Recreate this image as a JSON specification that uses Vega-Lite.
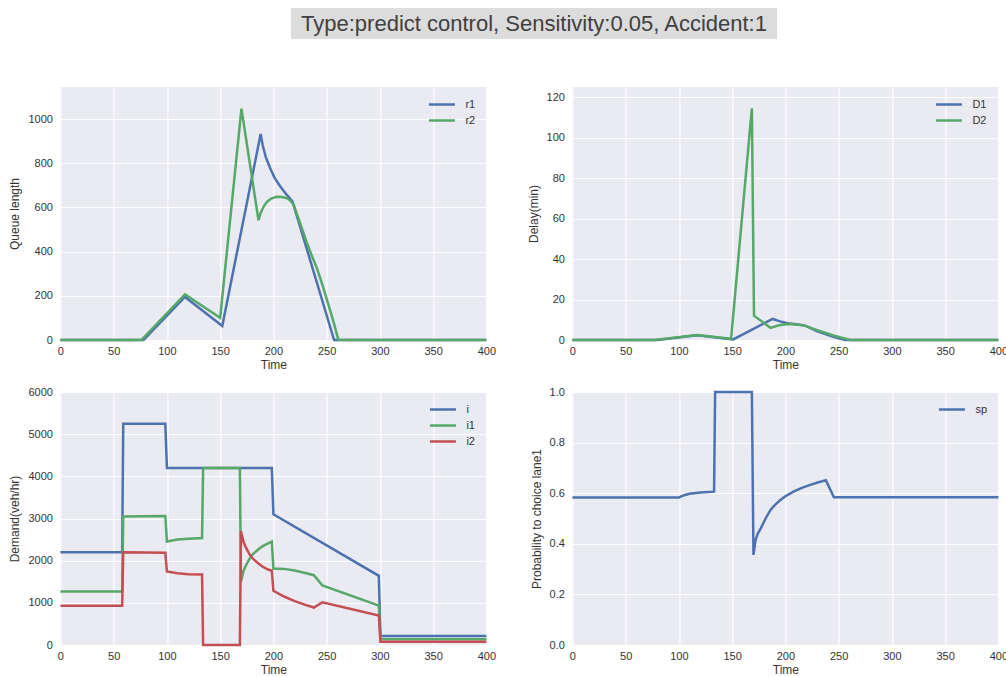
{
  "$schema": "https://vega.github.io/schema/vega-lite/v6.json",
  "padding": {"top": 8, "left": 8, "right": 0, "bottom": 0},
  "background": "white",
  "config": {
    "font": "Liberation Sans",
    "view": {"fill": "#EAEAF2", "stroke": null},
    "axis": {
      "domain": false, "ticks": false, "gridColor": "#FFFFFF", "gridWidth": 1.2,
      "labelFontSize": 11, "titleFontSize": 12, "labelColor": "#333333", "titleColor": "#333333",
      "titleFontWeight": "normal", "labelFont": "Liberation Sans", "titleFont": "Liberation Sans"
    },
    "axisX": {"labelPadding": 5, "titlePadding": 3, "labelFlush": false},
    "axisY": {"labelPadding": 8, "titlePadding": 6},
    "legend": {
      "orient": "top-right", "offset": 11, "padding": 0, "title": null,
      "symbolType": "M-2.6,0H2.6", "symbolSize": 100, "symbolStrokeWidth": 3,
      "labelFontSize": 11, "labelColor": "#333333", "labelOffset": 17, "rowPadding": 4,
      "labelFont": "Liberation Sans"
    },
    "line": {"strokeWidth": 2.5}
  },
  "datasets": {
    "title": [{"label": "Type:predict control, Sensitivity:0.05, Accident:1"}],
    "queue": [
      {"s": "r1", "t": 0, "v": 0}, {"s": "r1", "t": 78, "v": 0}, {"s": "r1", "t": 117, "v": 195},
      {"s": "r1", "t": 152, "v": 63}, {"s": "r1", "t": 188, "v": 932}, {"s": "r1", "t": 190, "v": 880},
      {"s": "r1", "t": 193, "v": 825}, {"s": "r1", "t": 197, "v": 777}, {"s": "r1", "t": 201, "v": 735},
      {"s": "r1", "t": 206, "v": 698}, {"s": "r1", "t": 212, "v": 660}, {"s": "r1", "t": 218, "v": 626},
      {"s": "r1", "t": 257, "v": 0}, {"s": "r1", "t": 400, "v": 0},
      {"s": "r2", "t": 0, "v": 0}, {"s": "r2", "t": 76, "v": 0}, {"s": "r2", "t": 117, "v": 206},
      {"s": "r2", "t": 150, "v": 100}, {"s": "r2", "t": 170, "v": 1047}, {"s": "r2", "t": 186, "v": 542},
      {"s": "r2", "t": 188, "v": 575}, {"s": "r2", "t": 191, "v": 605}, {"s": "r2", "t": 194, "v": 626},
      {"s": "r2", "t": 198, "v": 640}, {"s": "r2", "t": 203, "v": 648}, {"s": "r2", "t": 208, "v": 647},
      {"s": "r2", "t": 213, "v": 641}, {"s": "r2", "t": 216, "v": 630}, {"s": "r2", "t": 219, "v": 612},
      {"s": "r2", "t": 225, "v": 530}, {"s": "r2", "t": 231, "v": 445}, {"s": "r2", "t": 237, "v": 370},
      {"s": "r2", "t": 241, "v": 323}, {"s": "r2", "t": 246, "v": 250}, {"s": "r2", "t": 251, "v": 170},
      {"s": "r2", "t": 256, "v": 90}, {"s": "r2", "t": 261, "v": 0}, {"s": "r2", "t": 400, "v": 0}
    ],
    "delay": [
      {"s": "D1", "t": 0, "v": 0}, {"s": "D1", "t": 80, "v": 0}, {"s": "D1", "t": 117, "v": 2.3},
      {"s": "D1", "t": 151, "v": 0.3}, {"s": "D1", "t": 188, "v": 10.4}, {"s": "D1", "t": 195, "v": 9.2},
      {"s": "D1", "t": 202, "v": 8.3}, {"s": "D1", "t": 210, "v": 7.8}, {"s": "D1", "t": 218, "v": 7.2},
      {"s": "D1", "t": 230, "v": 4.3}, {"s": "D1", "t": 245, "v": 1.6}, {"s": "D1", "t": 256, "v": 0},
      {"s": "D1", "t": 400, "v": 0},
      {"s": "D2", "t": 0, "v": 0}, {"s": "D2", "t": 77, "v": 0}, {"s": "D2", "t": 117, "v": 2.5},
      {"s": "D2", "t": 149, "v": 0.6}, {"s": "D2", "t": 168.5, "v": 114.5}, {"s": "D2", "t": 170.5, "v": 12},
      {"s": "D2", "t": 186, "v": 6}, {"s": "D2", "t": 194, "v": 7.3}, {"s": "D2", "t": 202, "v": 7.9},
      {"s": "D2", "t": 210, "v": 7.6}, {"s": "D2", "t": 218, "v": 7.1}, {"s": "D2", "t": 230, "v": 4.8},
      {"s": "D2", "t": 245, "v": 2.2}, {"s": "D2", "t": 261, "v": 0}, {"s": "D2", "t": 400, "v": 0}
    ],
    "demand": [
      {"s": "i", "t": 0, "v": 2200}, {"s": "i", "t": 58, "v": 2200}, {"s": "i", "t": 59, "v": 5250},
      {"s": "i", "t": 98.5, "v": 5250}, {"s": "i", "t": 100, "v": 4200}, {"s": "i", "t": 198.5, "v": 4200},
      {"s": "i", "t": 200, "v": 3100}, {"s": "i", "t": 299, "v": 1640}, {"s": "i", "t": 300.5, "v": 215},
      {"s": "i", "t": 400, "v": 215},
      {"s": "i1", "t": 0, "v": 1270}, {"s": "i1", "t": 58, "v": 1270}, {"s": "i1", "t": 59, "v": 3050},
      {"s": "i1", "t": 98.5, "v": 3060}, {"s": "i1", "t": 100, "v": 2455}, {"s": "i1", "t": 110, "v": 2500},
      {"s": "i1", "t": 120, "v": 2520}, {"s": "i1", "t": 133, "v": 2535}, {"s": "i1", "t": 134, "v": 4200},
      {"s": "i1", "t": 168.5, "v": 4200}, {"s": "i1", "t": 169.5, "v": 1500}, {"s": "i1", "t": 172, "v": 1760},
      {"s": "i1", "t": 174, "v": 1880}, {"s": "i1", "t": 177, "v": 2020}, {"s": "i1", "t": 179, "v": 2100},
      {"s": "i1", "t": 181, "v": 2160}, {"s": "i1", "t": 186, "v": 2270}, {"s": "i1", "t": 190, "v": 2345},
      {"s": "i1", "t": 195, "v": 2410}, {"s": "i1", "t": 198.5, "v": 2450}, {"s": "i1", "t": 200, "v": 1815},
      {"s": "i1", "t": 210, "v": 1805}, {"s": "i1", "t": 220, "v": 1765}, {"s": "i1", "t": 230, "v": 1708},
      {"s": "i1", "t": 238, "v": 1655}, {"s": "i1", "t": 246, "v": 1412}, {"s": "i1", "t": 299, "v": 935},
      {"s": "i1", "t": 300.5, "v": 135}, {"s": "i1", "t": 400, "v": 135},
      {"s": "i2", "t": 0, "v": 930}, {"s": "i2", "t": 58, "v": 930}, {"s": "i2", "t": 59, "v": 2200},
      {"s": "i2", "t": 98.5, "v": 2190}, {"s": "i2", "t": 100, "v": 1745}, {"s": "i2", "t": 110, "v": 1700},
      {"s": "i2", "t": 120, "v": 1680}, {"s": "i2", "t": 133, "v": 1670}, {"s": "i2", "t": 134, "v": 0},
      {"s": "i2", "t": 168.5, "v": 0}, {"s": "i2", "t": 169.5, "v": 2700}, {"s": "i2", "t": 172, "v": 2440},
      {"s": "i2", "t": 174, "v": 2320}, {"s": "i2", "t": 177, "v": 2180}, {"s": "i2", "t": 179, "v": 2100},
      {"s": "i2", "t": 181, "v": 2040}, {"s": "i2", "t": 186, "v": 1930}, {"s": "i2", "t": 190, "v": 1855},
      {"s": "i2", "t": 195, "v": 1790}, {"s": "i2", "t": 198.5, "v": 1760}, {"s": "i2", "t": 200, "v": 1285},
      {"s": "i2", "t": 210, "v": 1150}, {"s": "i2", "t": 220, "v": 1042}, {"s": "i2", "t": 230, "v": 953},
      {"s": "i2", "t": 238, "v": 888}, {"s": "i2", "t": 246, "v": 1014}, {"s": "i2", "t": 299, "v": 700},
      {"s": "i2", "t": 300.5, "v": 80}, {"s": "i2", "t": 400, "v": 80}
    ],
    "prob": [
      {"s": "sp", "t": 0, "v": 0.583}, {"s": "sp", "t": 100, "v": 0.583}, {"s": "sp", "t": 105, "v": 0.592},
      {"s": "sp", "t": 110, "v": 0.598}, {"s": "sp", "t": 120, "v": 0.603}, {"s": "sp", "t": 133, "v": 0.606},
      {"s": "sp", "t": 134, "v": 1.0}, {"s": "sp", "t": 168.5, "v": 1.0}, {"s": "sp", "t": 170, "v": 0.356},
      {"s": "sp", "t": 172, "v": 0.415}, {"s": "sp", "t": 174, "v": 0.44}, {"s": "sp", "t": 177, "v": 0.462},
      {"s": "sp", "t": 181.5, "v": 0.501}, {"s": "sp", "t": 186, "v": 0.534}, {"s": "sp", "t": 190, "v": 0.553},
      {"s": "sp", "t": 195.5, "v": 0.574}, {"s": "sp", "t": 200, "v": 0.588}, {"s": "sp", "t": 208, "v": 0.607},
      {"s": "sp", "t": 216, "v": 0.622}, {"s": "sp", "t": 224, "v": 0.634}, {"s": "sp", "t": 231, "v": 0.643},
      {"s": "sp", "t": 238, "v": 0.651}, {"s": "sp", "t": 245.5, "v": 0.584}, {"s": "sp", "t": 400, "v": 0.584}
    ]
  },
  "spacing": 48,
  "center": true,
  "vconcat": [
    {
      "width": 486, "height": 31,
      "view": {"fill": "#DCDCDC", "stroke": null},
      "data": {"name": "title"},
      "mark": {"type": "text", "fontSize": 22, "color": "#404040", "font": "Liberation Sans", "baseline": "middle"},
      "encoding": {"text": {"field": "label", "type": "nominal"}}
    },
    {
      "columns": 2,
      "spacing": {"column": 30, "row": 16},
      "resolve": {"scale": {"color": "independent"}, "legend": {"color": "independent"}},
      "concat": [
        {
          "width": 426, "height": 253,
          "data": {"name": "queue"},
          "mark": {"type": "line"},
          "encoding": {
            "x": {"field": "t", "type": "quantitative", "scale": {"domain": [0, 400], "nice": false}, "axis": {"title": "Time", "values": [0, 50, 100, 150, 200, 250, 300, 350, 400]}},
            "y": {"field": "v", "type": "quantitative", "scale": {"domain": [0, 1145], "nice": false}, "axis": {"title": "Queue length", "values": [0, 200, 400, 600, 800, 1000], "format": "d"}},
            "color": {"field": "s", "type": "nominal", "scale": {"domain": ["r1", "r2"], "range": ["#4C72B0", "#55A868"]}}
          }
        },
        {
          "width": 426, "height": 253,
          "data": {"name": "delay"},
          "mark": {"type": "line"},
          "encoding": {
            "x": {"field": "t", "type": "quantitative", "scale": {"domain": [0, 400], "nice": false}, "axis": {"title": "Time", "values": [0, 50, 100, 150, 200, 250, 300, 350, 400]}},
            "y": {"field": "v", "type": "quantitative", "scale": {"domain": [0, 125], "nice": false}, "axis": {"title": "Delay(min)", "values": [0, 20, 40, 60, 80, 100, 120]}},
            "color": {"field": "s", "type": "nominal", "scale": {"domain": ["D1", "D2"], "range": ["#4C72B0", "#55A868"]}}
          }
        },
        {
          "width": 426, "height": 253,
          "data": {"name": "demand"},
          "mark": {"type": "line"},
          "encoding": {
            "x": {"field": "t", "type": "quantitative", "scale": {"domain": [0, 400], "nice": false}, "axis": {"title": "Time", "values": [0, 50, 100, 150, 200, 250, 300, 350, 400]}},
            "y": {"field": "v", "type": "quantitative", "scale": {"domain": [0, 6000], "nice": false}, "axis": {"title": "Demand(veh/hr)", "values": [0, 1000, 2000, 3000, 4000, 5000, 6000], "format": "d"}},
            "color": {"field": "s", "type": "nominal", "scale": {"domain": ["i", "i1", "i2"], "range": ["#4C72B0", "#55A868", "#C44E52"]}}
          }
        },
        {
          "width": 426, "height": 253,
          "data": {"name": "prob"},
          "mark": {"type": "line"},
          "encoding": {
            "x": {"field": "t", "type": "quantitative", "scale": {"domain": [0, 400], "nice": false}, "axis": {"title": "Time", "values": [0, 50, 100, 150, 200, 250, 300, 350, 400]}},
            "y": {"field": "v", "type": "quantitative", "scale": {"domain": [0, 1], "nice": false}, "axis": {"title": "Probability to choice lane1", "values": [0, 0.2, 0.4, 0.6, 0.8, 1.0], "format": ".1f"}},
            "color": {"field": "s", "type": "nominal", "scale": {"domain": ["sp"], "range": ["#4C72B0"]}}
          }
        }
      ]
    }
  ]
}
